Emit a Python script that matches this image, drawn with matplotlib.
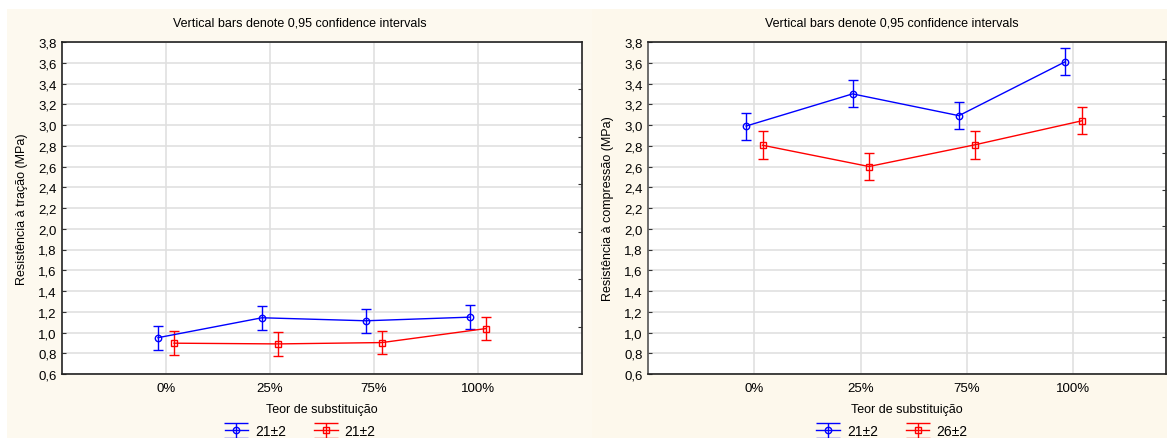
import numpy as np
import matplotlib
matplotlib.use('Agg')
import matplotlib.pyplot as plt
from matplotlib.patches import Rectangle
from matplotlib.ticker import FuncFormatter
from matplotlib.container import ErrorbarContainer
from matplotlib.legend_handler import HandlerErrorbar

plt.rcParams['font.family'] = ['Liberation Sans', 'DejaVu Sans']

categorias = ['0%', '25%', '75%', '100%']

# tração (MPa)
tracao_a = [0.95, 1.142, 1.113, 1.148]
tracao_a_ic = [0.115, 0.115, 0.116, 0.117]
tracao_b = [0.897, 0.890, 0.903, 1.038]
tracao_b_ic = [0.113, 0.115, 0.115, 0.115]

# compressão (MPa)
compressao_a = [2.99, 3.30, 3.09, 3.61]
compressao_a_ic = [0.13, 0.13, 0.13, 0.13]
compressao_b = [2.805, 2.60, 2.81, 3.04]
compressao_b_ic = [0.135, 0.13, 0.135, 0.13]

legenda_tracao = ['21±2', '21±2']
legenda_compressao = ['21±2', '26±2']

yticks = np.arange(0.6, 3.81, 0.2)
W, H = 1167, 439


class CapsLargos(HandlerErrorbar):
    # caps da legenda ocupando toda a largura, como no Statistica
    def create_artists(self, *args, **kwargs):
        arts = super().create_artists(*args, **kwargs)
        for a in arts:
            if hasattr(a, 'get_marker') and a.get_marker() == '_':
                a.set_markersize(17)
        return arts


fig = plt.figure(figsize=(W / 100, H / 100), dpi=100)
fig.patch.set_facecolor('white')
fig.patches.append(Rectangle((7 / W, 0), 585 / W, 429 / H, transform=fig.transFigure,
                             facecolor='#fdf9ef', edgecolor='none', zorder=-10))
fig.patches.append(Rectangle((592 / W, 0), 575 / W, 429 / H, transform=fig.transFigure,
                             facecolor='#fdf8ec', edgecolor='none', zorder=-10))


def painel(x0, x1, xmax, a, a_ic, b, b_ic, leg, ylabel, cx, n_right, cor_esq):
    ax = fig.add_axes([x0 / W, (H - 375) / H, (x1 - x0) / W, 332 / H])
    ax.set_facecolor('white')
    x = np.arange(1, len(categorias) + 1)
    ha = ax.errorbar(x - 0.077, a, yerr=a_ic, color='#0000ff', marker='o', ms=4.6,
                     mfc='none', mew=1, lw=1, capsize=3.6, capthick=1, elinewidth=1)
    hb = ax.errorbar(x + 0.077, b, yerr=b_ic, color='#ff0000', marker='s', ms=4.4,
                     mfc='none', mew=1, lw=1, capsize=3.6, capthick=1, elinewidth=1)
    ax.set_xlim(0, xmax)
    ax.set_ylim(0.6, 3.8)
    ax.set_xticks(x)
    ax.set_xticklabels(categorias)
    ax.set_yticks(yticks)
    ax.yaxis.set_major_formatter(FuncFormatter(lambda v, p: f'{v:.1f}'.replace('.', ',')))
    ax.grid(True, color='#e0e0e0', lw=1.2)
    ax.set_axisbelow(True)
    ax.tick_params(axis='y', direction='in', length=3, labelsize=9.5, pad=4, color='#333333')
    ax.tick_params(axis='x', length=0, labelsize=9.5, pad=6)
    for s in ax.spines.values():
        s.set_color('#222222')
        s.set_linewidth(1.2)
    ax.spines['left'].set_color(cor_esq)
    ax.set_ylabel(ylabel, fontsize=9, labelpad=7)
    ax.set_xlabel('Teor de substituição', fontsize=9, labelpad=6)
    tw = ax.twinx()
    tw.set_ylim(0, 1)
    tw.set_yticks(np.arange(1, n_right) / n_right)
    tw.tick_params(axis='y', direction='in', length=3, labelright=False, color='#333333')
    for s in tw.spines.values():
        s.set_visible(False)
    fig.text(cx / W, 1 - 24 / H, 'Vertical bars denote 0,95 confidence intervals',
             ha='center', va='center', fontsize=9)
    fig.legend([ha, hb], leg, loc='center', bbox_to_anchor=(cx / W, 1 - 432 / H),
               ncol=2, frameon=False, fontsize=10, handlelength=1.7, columnspacing=2.0,
               handletextpad=0.5, borderpad=0,
               handler_map={ErrorbarContainer: CapsLargos(yerr_size=0.55)})
    return ax


painel(62, 582, 5.0, tracao_a, tracao_a_ic, tracao_b, tracao_b_ic, legenda_tracao,
       'Resistência à tração (MPa)', 300, 7, '#222222')
painel(648, 1166, 4.87, compressao_a, compressao_a_ic, compressao_b, compressao_b_ic,
       legenda_compressao, 'Resistência à compressão (MPa)', 892, 9, '#555555')

fig.savefig('out.png', dpi=100)
